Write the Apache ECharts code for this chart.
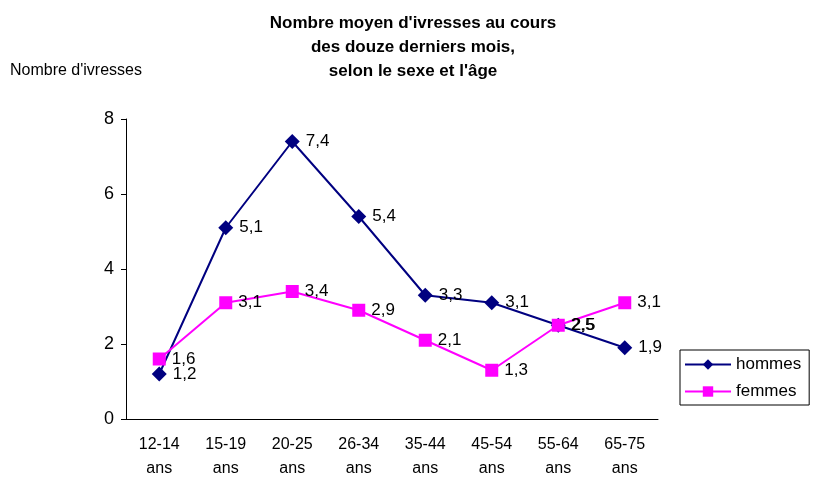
<!DOCTYPE html>
<html style="height: 100%;">
<head>
<meta charset="utf-8">
<title>Nombre moyen d'ivresses</title>
<script src="https://cdn.jsdelivr.net/npm/echarts@6/dist/echarts.min.js"></script>
</head>
<body style="height: 100%; margin: 0; background: #fff">
<div id="container" style="width: 813px; height: 481px"></div>
<script type="text/javascript">
var categories = ['12-14\nans', '15-19\nans', '20-25\nans', '26-34\nans', '35-44\nans', '45-54\nans', '55-64\nans', '65-75\nans'];
var hommes = [1.2, 5.1, 7.4, 5.4, 3.3, 3.1, 2.5, 1.9];
var femmes = [1.6, 3.1, 3.4, 2.9, 2.1, 1.3, 2.5, 3.1];

var font = 'Liberation Sans, Arial, sans-serif';
var fmt = function (p) { return String(p.value).replace('.', ','); };

var myChart = echarts.init(document.getElementById('container'));
myChart.setOption({
    animation: false,
    title: {
        text: "Nombre moyen d'ivresses au cours\ndes douze derniers mois,\nselon le sexe et l'âge",
        left: 408, top: 6, textAlign: 'center',
        textStyle: { fontFamily: font, fontWeight: 'bold', fontSize: 17, lineHeight: 24, color: '#000' }
    },
    graphic: [{
        type: 'text', left: 10, top: 63,
        style: { text: "Nombre d'ivresses", font: '16px Liberation Sans, Arial', fill: '#000' }
    }],
    legend: {
        orient: 'vertical', left: 680, top: 350,
        borderColor: '#000', borderWidth: 1, padding: [6, 8, 5, 4],
        itemWidth: 46, itemHeight: 13, itemGap: 10,
        textStyle: { fontFamily: font, fontSize: 17, color: '#000' },
        data: ['hommes', 'femmes']
    },
    grid: { left: 126, right: 155, top: 119, bottom: 60 },
    xAxis: {
        type: 'category', data: categories, boundaryGap: true,
        axisLine: { lineStyle: { color: '#000' } },
        axisTick: { lineStyle: { color: '#000' }, length: 5 },
        axisLabel: { color: '#000', fontFamily: font, fontSize: 16, lineHeight: 24, margin: 14 }
    },
    yAxis: {
        type: 'value', min: 0, max: 8, interval: 2,
        axisLine: { show: true, lineStyle: { color: '#000' } },
        axisTick: { show: true, inside: false, length: 5, lineStyle: { color: '#000' } },
        splitLine: { show: false },
        axisLabel: { color: '#000', fontFamily: font, fontSize: 18, margin: 12 }
    },
    series: [{
        name: 'hommes', type: 'line', data: hommes,
        symbol: 'diamond', symbolSize: 15,
        itemStyle: { color: '#000080' },
        lineStyle: { color: '#000080', width: 2 },
        label: { show: true, position: 'right', distance: 6, formatter: fmt, color: '#000', fontFamily: font, fontSize: 17 }
    }, {
        name: 'femmes', type: 'line', data: femmes,
        symbol: 'rect', symbolSize: 13,
        itemStyle: { color: '#ff00ff' },
        lineStyle: { color: '#ff00ff', width: 2 },
        label: { show: true, position: 'right', distance: 6, formatter: fmt, color: '#000', fontFamily: font, fontSize: 17 }
    }]
});
</script>
</body>
</html>
